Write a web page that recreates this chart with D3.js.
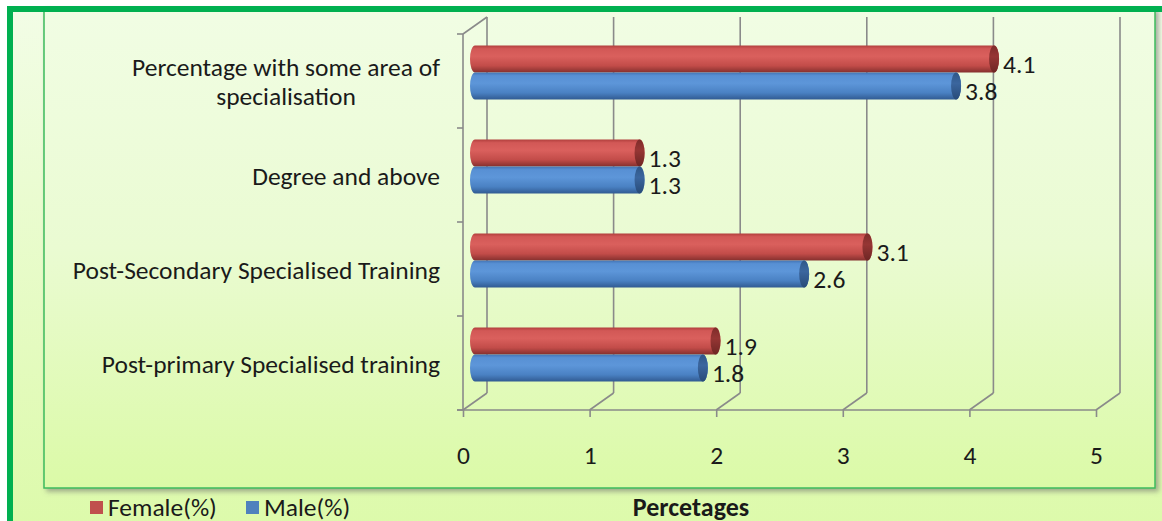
<!DOCTYPE html>
<html>
<head>
<meta charset="utf-8">
<script src="https://cdn.jsdelivr.net/npm/d3@7"></script>
<style>
  html, body { margin: 0; padding: 0; background: #ffffff; }
  svg { display: block; }
  text { font-family: Carlito, Lato, "Noto Sans", sans-serif; fill: #1a1a1a; }
</style>
</head>
<body>
<svg id="chart" width="1162" height="521"></svg>
<script>
// Categories listed bottom to top, as they appear on the vertical axis
const categories = [
  "Post-primary Specialised training",
  "Post-Secondary Specialised Training",
  "Degree and above",
  "Percentage with some area of specialisation"
];
const female = [1.9, 3.1, 1.3, 4.1];
const male = [1.8, 2.6, 1.3, 3.8];
const seriesNames = ["Female(%)", "Male(%)"];
const xTicks = [0, 1, 2, 3, 4, 5];
const axisTitle = "Percetages";

const fontSize = 25.5;
const svg = d3.select("#chart");
const defs = svg.append("defs");

// Background and cylinder gradients
function vGrad(id, stops) {
  const g = defs.append("linearGradient").attr("id", id)
    .attr("x1", 0).attr("y1", 0).attr("x2", 0).attr("y2", 1);
  stops.forEach(s => g.append("stop").attr("offset", s[0]).attr("stop-color", s[1]));
}
vGrad("bgOuter", [[0, "#f2fde6"], [1, "#dcfaa9"]]);
vGrad("bgPlot", [[0, "#f1fde4"], [0.5, "#eafbd2"], [1, "#dbfaa7"]]);
vGrad("cylRed", [[0, "#b13f3d"], [0.12, "#d25856"], [0.4, "#da605d"], [0.75, "#c24c49"], [1, "#85302e"]]);
vGrad("cylBlue", [[0, "#4375b5"], [0.12, "#5890d4"], [0.4, "#5d96d9"], [0.75, "#4a81c3"], [1, "#315b92"]]);
vGrad("capRed", [[0, "#7e2c2a"], [0.4, "#963634"], [1, "#6e2624"]]);
vGrad("capBlue", [[0, "#2f5788"], [0.4, "#3b669e"], [1, "#284b78"]]);

const shadow = defs.append("filter").attr("id", "shadow")
  .attr("x", "-5%").attr("y", "-5%").attr("width", "110%").attr("height", "115%");
shadow.append("feDropShadow").attr("dx", 3).attr("dy", 3).attr("stdDeviation", 2.5)
  .attr("flood-color", "#6b6b6b").attr("flood-opacity", 0.55);

// Outer chart area with its green frame
svg.append("rect").attr("x", 10).attr("y", 9).attr("width", 1170).attr("height", 530)
  .attr("fill", "url(#bgOuter)").attr("stroke", "#00b050").attr("stroke-width", 6);

// Plot area
svg.append("rect").attr("x", 44).attr("y", 8).attr("width", 1111).attr("height", 480)
  .attr("fill", "url(#bgPlot)").attr("stroke", "#3dbb5c").attr("stroke-width", 1.5)
  .attr("filter", "url(#shadow)");
// frame top edge drawn over the plot area
svg.append("line").attr("x1", 7).attr("x2", 1162).attr("y1", 9).attr("y2", 9)
  .attr("stroke", "#00b050").attr("stroke-width", 6);

// Scales: front plane of the 3-D box, plus a depth offset toward the back wall
const x = d3.scaleLinear().domain([0, 5]).range([463, 1096]);
const y = d3.scaleBand().domain(categories).range([410, 34]);
const depth = { dx: 24, dy: -17 };
const midX = v => x(v) + depth.dx / 2;
const midY = yy => yy + depth.dy / 2;

const gridColor = "#8a8a8a";
const grid = svg.append("g").attr("stroke", gridColor).attr("stroke-width", 1.6).attr("fill", "none");

const yTop = y.range()[1], yBot = y.range()[0];

// Back-wall vertical gridlines and floor diagonals
xTicks.forEach(t => {
  grid.append("line")
    .attr("x1", x(t) + depth.dx).attr("x2", x(t) + depth.dx)
    .attr("y1", yTop + depth.dy).attr("y2", yBot + depth.dy);
  grid.append("line")
    .attr("x1", x(t)).attr("y1", yBot)
    .attr("x2", x(t) + depth.dx).attr("y2", yBot + depth.dy);
});
// Left wall edges
grid.append("line").attr("x1", x(0)).attr("x2", x(0)).attr("y1", yTop).attr("y2", yBot);
grid.append("line").attr("x1", x(0)).attr("y1", yTop)
  .attr("x2", x(0) + depth.dx).attr("y2", yTop + depth.dy);

// Front horizontal axis with its ticks and labels
const xAxis = d3.axisBottom(x).tickValues(xTicks).tickFormat(d3.format("d"))
  .tickSize(7).tickPadding(29).tickSizeOuter(0);
const gx = svg.append("g").attr("transform", `translate(0,${yBot})`).call(xAxis);
gx.select(".domain").attr("stroke", gridColor).attr("stroke-width", 1.6)
  .attr("d", `M${x(0) - 6},0H${x(5)}`);
gx.selectAll(".tick line").attr("stroke", gridColor).attr("stroke-width", 1.6);
gx.selectAll(".tick text").attr("font-size", fontSize).attr("fill", "#1a1a1a")
  .style("font-family", "Carlito, Lato, 'Noto Sans', sans-serif");

// Left axis ticks at the category boundaries
const bounds = [yBot].concat(categories.map(c => y(c)));
svg.append("g").selectAll("line").data(bounds).join("line")
  .attr("x1", x(0) - 6).attr("x2", x(0)).attr("y1", d => d).attr("y2", d => d)
  .attr("stroke", gridColor).attr("stroke-width", 1.6);

// Category labels (wrapped when wide, centred block, right edge at 440)
const labelRight = 440;
const labelG = svg.append("g").attr("font-size", fontSize);
categories.forEach(c => {
  const cy = y(c) + y.bandwidth() / 2 + 1;
  const words = c.split(" ");
  const probe = labelG.append("text");
  const lines = [];
  let cur = [];
  words.forEach(w => {
    const test = cur.concat([w]).join(" ");
    probe.text(test);
    if (cur.length && probe.node().getComputedTextLength() > 385) {
      lines.push(cur.join(" "));
      cur = [w];
    } else cur.push(w);
  });
  lines.push(cur.join(" "));
  const widths = lines.map(l => { probe.text(l); return probe.node().getComputedTextLength(); });
  probe.remove();
  const maxW = d3.max(widths);
  const lh = 29;
  lines.forEach((l, i) => {
    labelG.append("text")
      .attr("x", labelRight - maxW / 2)
      .attr("y", cy + (i - (lines.length - 1) / 2) * lh)
      .attr("dy", "0.35em")
      .attr("text-anchor", "middle")
      .text(l);
  });
});

// Cylinder bars
const barH = 27, rx = 5;
const series = [
  { name: seriesNames[0], values: female, fill: "url(#cylRed)", cap: "url(#capRed)", off: -barH },
  { name: seriesNames[1], values: male, fill: "url(#cylBlue)", cap: "url(#capBlue)", off: 0 }
];
const bars = svg.append("g");
series.forEach(s => {
  s.values.forEach((v, i) => {
    const c = categories[i];
    const center = midY(y(c) + y.bandwidth() / 2);
    const top = center + s.off, bot = top + barH, r = barH / 2;
    const x0 = midX(0), x1 = midX(v);
    bars.append("path")
      .attr("d", `M${x0},${top}L${x1},${top}A${rx},${r} 0 0 1 ${x1},${bot}L${x0},${bot}A${rx},${r} 0 0 1 ${x0},${top}Z`)
      .attr("fill", s.fill);
    bars.append("ellipse")
      .attr("cx", x1).attr("cy", top + r).attr("rx", rx).attr("ry", r)
      .attr("fill", s.cap);
    bars.append("text")
      .attr("x", x1 + rx + 4).attr("y", top + r + 5).attr("dy", "0.35em")
      .attr("font-size", fontSize).text(d3.format(".1f")(v));
  });
});

// Legend
const legend = svg.append("g").attr("font-size", fontSize);
const legendItems = [
  { name: seriesNames[0], color: "#c0504d", x: 90 },
  { name: seriesNames[1], color: "#4f81bd", x: 246 }
];
legendItems.forEach(d => {
  legend.append("rect").attr("x", d.x).attr("y", 501).attr("width", 13).attr("height", 13).attr("fill", d.color);
  legend.append("text").attr("x", d.x + 18).attr("y", 507).attr("dy", "0.35em").text(d.name);
});

// Axis title
svg.append("text").attr("x", 691).attr("y", 507).attr("dy", "0.35em")
  .attr("text-anchor", "middle").attr("font-size", 26).attr("font-weight", "bold")
  .text(axisTitle);
</script>
</body>
</html>
